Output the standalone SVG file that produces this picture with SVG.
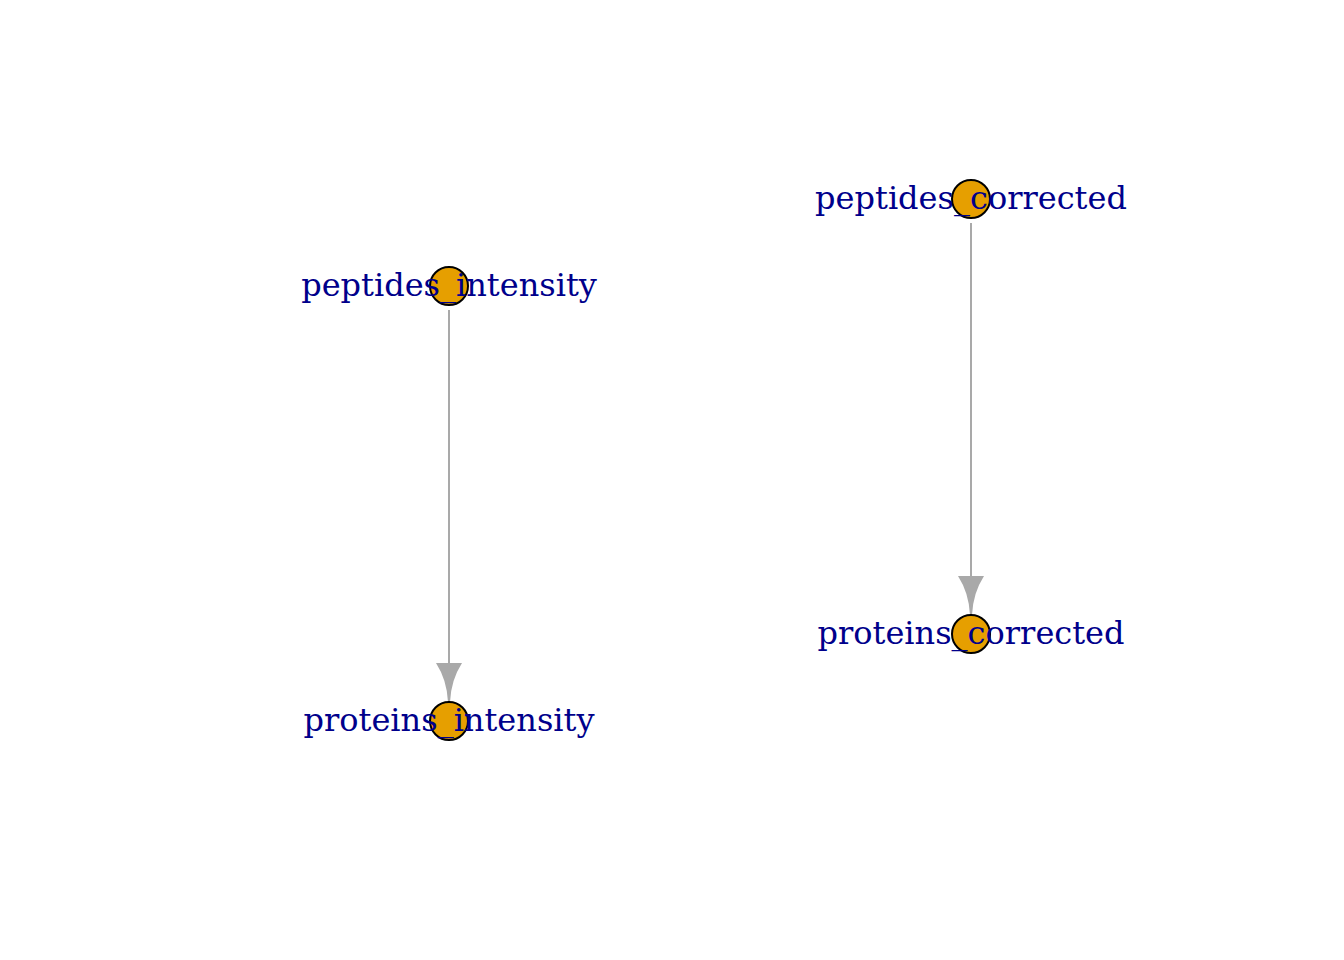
<svg xmlns="http://www.w3.org/2000/svg" width="1344" height="960" viewBox="0 0 1344 960">
<style>
.edge{stroke:#A9A9A9;stroke-width:2;fill:none}
.head{fill:#A9A9A9;stroke:none}
.node circle{fill:#E69F00;stroke:#000;stroke-width:2}
.node text{font-family:"DejaVu Serif",serif;font-size:32px;fill:#00008B;text-anchor:middle}
</style>
<rect width="1344" height="960" fill="#fff"/>
<g id="edges">
<line class="edge" x1="449" y1="310" x2="449" y2="668"/>
<path class="head" d="M436 663 L462 663 Q451 680 450 702 L448 702 Q447 680 436 663 Z"/>
<line class="edge" x1="971" y1="223" x2="971" y2="581"/>
<path class="head" d="M958 576 L984 576 Q973 593 972 615 L970 615 Q969 593 958 576 Z"/>
</g>
<g id="peptides_intensity" class="node"><circle cx="449" cy="286" r="19"/><text x="449" y="296">peptides_intensity</text></g>
<g id="proteins_intensity" class="node"><circle cx="449" cy="721" r="19"/><text x="449" y="731">proteins_intensity</text></g>
<g id="peptides_corrected" class="node"><circle cx="971" cy="199" r="19"/><text x="971" y="209">peptides_corrected</text></g>
<g id="proteins_corrected" class="node"><circle cx="971" cy="634" r="19"/><text x="971" y="644">proteins_corrected</text></g>
</svg>
